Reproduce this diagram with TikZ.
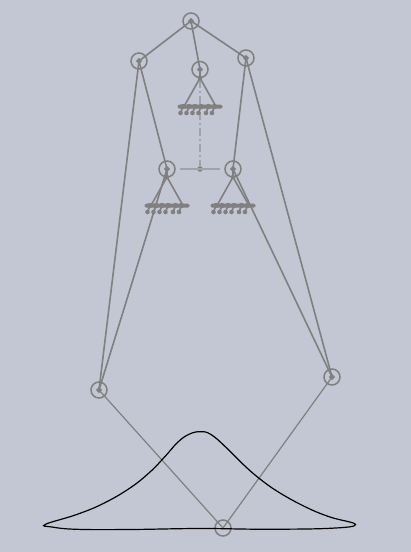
\documentclass[tikz,border=0pt]{standalone}
\usepackage{tikz}
\usetikzlibrary{shapes.geometric}
\definecolor{PanelGray}{RGB}{195,199,211}
\definecolor{LinkGray}{RGB}{128,128,128}
\definecolor{AxisGray}{RGB}{160,162,168}

\begin{document}
\begin{tikzpicture}[x=1pt,y=-1pt]
  \tikzset{JointStyle/.style = {
    shape         = circle,
    draw          = LinkGray,
    line width    = 1.5pt,
    inner sep     = 0pt,
    outer sep     = 0pt,
    minimum size  = 16pt
    }
  }
  \tikzset{PinStyle/.style = {
    shape         = diamond,
    fill          = LinkGray,
    inner sep     = 0pt,
    minimum size  = 6.5pt
    }
  }
  \tikzset{GroundStyle/.style = {
    shape         = rectangle,
    fill          = LinkGray,
    rounded corners = 1.5pt,
    inner sep     = 0pt,
    minimum width = 45pt,
    minimum height= 4pt
    }
  }
  \tikzset{TipStyle/.style = {
    shape         = circle,
    fill          = LinkGray,
    inner sep     = 0pt,
    minimum size  = 4.5pt
    }
  }
  \tikzset{LinkStyle/.style = {
    draw          = LinkGray,
    line width    = 1.6pt
    }
  }
  \tikzset{LowerLinkStyle/.style = {
    draw          = LinkGray,
    line width    = 1.2pt
    }
  }
  \tikzset{AxisStyle/.style = {
    draw          = AxisGray,
    line width    = 1.2pt
    }
  }
  \tikzset{HatchStyle/.style = {
    draw          = LinkGray,
    line width    = 1.6pt
    }
  }

  \fill[PanelGray] (0,0) rectangle (411,552);
  \useasboundingbox (0,0) rectangle (411,552);

  % axes
  \node[TipStyle, minimum size=5.5pt](M0) at (200, 169) {};
  \coordinate (M1) at (180, 169);
  \coordinate (M2) at (220, 169);
  \draw[AxisStyle](M1) -- (M2);

  % joints
  \node[JointStyle](A1) at (191, 21) {};
  \node[JointStyle](B1) at (139, 61) {};
  \node[JointStyle](B2) at (200, 69.5) {};
  \node[JointStyle](B3) at (246, 58) {};
  \node[JointStyle](C1) at (167, 169) {};
  \node[JointStyle](C2) at (233, 169) {};
  \node[JointStyle](D1) at (99, 390) {};
  \node[JointStyle](D2) at (332, 377) {};
  \node[JointStyle](E1) at (223, 528) {};

  \node[PinStyle](P1) at (A1) {};
  \node[PinStyle](P2) at (B1) {};
  \node[PinStyle](P3) at (B2) {};
  \node[PinStyle](P4) at (B3) {};
  \node[PinStyle](P5) at (C1) {};
  \node[PinStyle](P6) at (C2) {};
  \node[PinStyle](P7) at (D1) {};
  \node[PinStyle](P8) at (D2) {};

  % grounds
  \node[TipStyle](T1) at (200, 78) {};
  \node[TipStyle](T2) at (167, 177) {};
  \node[TipStyle](T3) at (233, 177) {};
  \node[GroundStyle](G1) at (200, 106.5) {};
  \node[GroundStyle](G2) at (167, 205.5) {};
  \node[GroundStyle](G3) at (233, 205.5) {};

  \draw[AxisStyle, dash pattern=on 8pt off 3pt on 2pt off 3pt](T1) -- (M0);

  \foreach \g in {G1,G2,G3}{
    \foreach \dx in {-19.5,-13.5,-7.5,-1.5,6,12}{
      \draw[HatchStyle] ([xshift=\dx pt+2.5pt]\g.center) -- ([xshift=\dx pt, yshift=-6.5pt]\g.center);
      \fill[LinkGray] ([xshift=\dx pt, yshift=-6.5pt]\g.center) circle[radius=2.3pt];
      \fill[LinkGray] ([xshift=\dx pt+2.5pt]\g.center) circle[radius=2.7pt];
    }
  }

  % upper links
  \draw[LinkStyle](A1.center) -- (B1.center);
  \draw[LinkStyle](A1.center) -- (B2.center);
  \draw[LinkStyle](A1.center) -- (B3.center);
  \draw[LinkStyle](B2.center) -- (T1.center);
  \draw[LinkStyle](C1.center) -- (T2.center);
  \draw[LinkStyle](C2.center) -- (T3.center);
  \draw[LinkStyle](T1.center) -- ([xshift=-16pt]G1.center);
  \draw[LinkStyle](T1.center) -- ([xshift=16pt]G1.center);
  \draw[LinkStyle](T2.center) -- ([xshift=-16pt]G2.center);
  \draw[LinkStyle](T2.center) -- ([xshift=16pt]G2.center);
  \draw[LinkStyle](T3.center) -- ([xshift=-16pt]G3.center);
  \draw[LinkStyle](T3.center) -- ([xshift=16pt]G3.center);
  \draw[LinkStyle](B1.center) -- (C1.center);
  \draw[LinkStyle](B1.center) -- (D1.center);
  \draw[LinkStyle](C1.center) -- (D1.center);
  \draw[LinkStyle](B3.center) -- (C2.center);
  \draw[LinkStyle](B3.center) -- (D2.center);
  \draw[LinkStyle](C2.center) -- (D2.center);

  % lower links
  \draw[LowerLinkStyle](D1.center) -- (E1.center);
  \draw[LowerLinkStyle](D2.center) -- (E1.center);

  % coupler curve
  \draw[black, line width=1.2pt] plot[smooth cycle, tension=0.7] coordinates {
    (45.5,524.3) (76.7,514.5) (103.3,503.5) (130,488) (150,472) (165,456.5)
    (178,442) (189,434.3) (200,431.7) (211,434.5) (226.7,448) (243.3,464.5)
    (260,479) (280,493) (306.7,507.5) (330,517) (355.5,524.5)
    (330,528.3) (263,529.2) (200,528.5) (130,529.5) (76.7,529.3) (52,527)
  };
\end{tikzpicture}
\end{document}
